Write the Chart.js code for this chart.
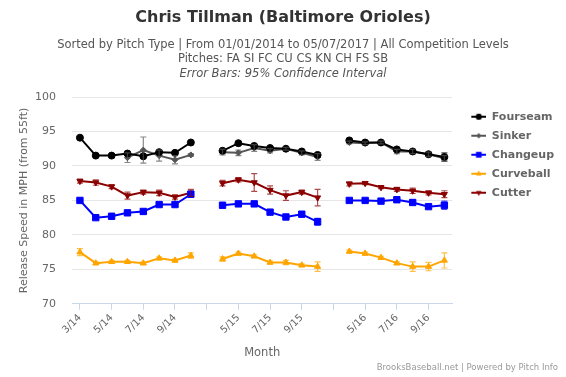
<!DOCTYPE html>
<html>
<head>
<meta charset="utf-8">
<script src="https://cdn.jsdelivr.net/npm/chart.js@4.4.0/dist/chart.umd.min.js"></script>
<style>
  html, body { margin: 0; padding: 0; background: #fff; }
  #wrap { width: 566px; height: 377px; position: relative; }
</style>
</head>
<body>
<div id="wrap"><canvas id="speedChart"></canvas></div>
<script>
// ===== Data =====
const months = ['3/14','4/14','5/14','6/14','7/14','8/14','9/14','10/14','',
                '4/15','5/15','6/15','7/15','8/15','9/15','10/15','',
                '4/16','5/16','6/16','7/16','8/16','9/16','10/16'];

const fourseam    = [94.1,91.5,91.5,91.8,91.4,92.0,91.9,93.4,null, 92.2,93.3,92.9,92.6,92.5,92.1,91.6,null, 93.7,93.4,93.4,92.4,92.1,91.7,91.3];
const fourseamErr = [0.2,0.1,0.1,0.1,0.1,0.1,0.1,0.2,null, 0.2,0.2,0.2,0.2,0.1,0.2,0.3,null, 0.2,0.2,0.1,0.2,0.2,0.2,0.6];

const sinker    = [null,null,null,91.2,92.3,91.5,90.9,91.6,null, 92.0,91.9,92.6,92.2,92.5,91.9,91.3,null, 93.4,93.3,93.4,92.1,92.1,91.7,91.1];
const sinkerErr = [null,null,null,0.7,1.9,0.8,0.6,0.2,null, 0.4,0.4,0.5,0.3,0.2,0.3,0.5,null, 0.2,0.2,0.2,0.3,0.3,0.3,0.4];

const changeup    = [85.0,82.5,82.7,83.2,83.4,84.4,84.4,85.9,null, 84.3,84.5,84.5,83.3,82.6,83.0,81.9,null, 85.0,85.0,84.9,85.1,84.7,84.1,84.3];
const changeupErr = [0.3,0.2,0.2,0.2,0.2,0.3,0.2,0.4,null, 0.2,0.2,0.2,0.2,0.2,0.2,0.5,null, 0.2,0.2,0.2,0.2,0.3,0.3,0.6];

const curveball    = [77.5,75.9,76.1,76.1,75.9,76.6,76.3,77.0,null, 76.5,77.3,76.9,76.0,76.0,75.6,75.4,null, 77.6,77.3,76.7,75.9,75.4,75.4,76.3];
const curveballErr = [0.5,0.2,0.2,0.2,0.2,0.2,0.2,0.4,null, 0.3,0.2,0.2,0.2,0.3,0.2,0.7,null, 0.2,0.2,0.2,0.2,0.7,0.6,1.1];

const cutter    = [87.8,87.6,87.0,85.7,86.2,86.1,85.5,86.1,null, 87.5,88.0,87.6,86.5,85.7,86.2,85.4,null, 87.4,87.5,86.9,86.6,86.4,86.1,85.9];
const cutterErr = [0.3,0.4,0.3,0.5,0.3,0.4,0.3,0.5,null, 0.4,0.3,1.3,0.6,0.7,0.3,1.2,null, 0.3,0.2,0.2,0.3,0.4,0.3,0.5];

const yTicks = [70, 75, 80, 85, 90, 95, 100];

const TITLE = 'Chris Tillman (Baltimore Orioles)';
const SUB1 = 'Sorted by Pitch Type | From 01/01/2014 to 05/07/2017 | All Competition Levels';
const SUB2 = 'Pitches: FA SI FC CU CS KN CH FS SB';
const SUB3 = 'Error Bars: 95% Confidence Interval';
const CREDIT = 'BrooksBaseball.net | Powered by Pitch Info';

// ===== Helpers =====
const FONT = "'DejaVu Sans', 'Liberation Sans', sans-serif";

// legend swatch: blank margin on the left, then a short line with the marker in the middle
function swatch(color, style, radius, rot) {
  const c = document.createElement('canvas');
  c.width = 26; c.height = 10;
  const g = c.getContext('2d');
  g.strokeStyle = color; g.lineWidth = 2;
  g.beginPath(); g.moveTo(11, 5); g.lineTo(26, 5); g.stroke();
  g.fillStyle = color;
  Chart.helpers.drawPoint(g, { pointStyle: style, radius: radius * 0.85, rotation: rot || 0, borderWidth: 0 }, 18.5, 5);
  g.fill();
  return c;
}

function series(label, data, err, color, style, radius, rot) {
  return {
    label, data, err,
    borderColor: color, backgroundColor: color,
    pointStyle: style, pointRadius: radius, pointRotation: rot || 0,
    pointHoverRadius: radius, pointBorderWidth: 1, borderWidth: 2, tension: 0, spanGaps: false,
    legendSwatch: swatch(color, style, radius, rot)
  };
}

// ===== Plugins =====
const errorBars = {
  id: 'errorBars',
  afterDatasetsDraw(chart) {
    const { ctx, scales: { x, y } } = chart;
    chart.data.datasets.forEach(ds => {
      if (!ds.err) return;
      ctx.save();
      ctx.strokeStyle = ds.borderColor;
      ctx.globalAlpha = 0.7;
      ctx.lineWidth = 1.2;
      ds.data.forEach((v, i) => {
        const e = ds.err[i];
        if (v == null || e == null) return;
        const px = x.getPixelForValue(i);
        const top = y.getPixelForValue(v + e), bot = y.getPixelForValue(v - e);
        ctx.beginPath();
        ctx.moveTo(px, top); ctx.lineTo(px, bot);
        ctx.moveTo(px - 3, top); ctx.lineTo(px + 3, top);
        ctx.moveTo(px - 3, bot); ctx.lineTo(px + 3, bot);
        ctx.stroke();
      });
      ctx.restore();
    });
  }
};

const header = {
  id: 'header',
  afterDraw(chart) {
    const { ctx, width, height } = chart;
    ctx.save();
    ctx.textAlign = 'center'; ctx.textBaseline = 'middle';
    ctx.fillStyle = '#333';
    ctx.font = `bold 16px ${FONT}`;
    ctx.fillText(TITLE, width / 2, 18);
    ctx.fillStyle = '#555';
    ctx.font = `11.5px ${FONT}`;
    ctx.fillText(SUB1, width / 2, 45);
    ctx.fillText(SUB2, width / 2, 59.5);
    ctx.font = `italic 11.5px ${FONT}`;
    ctx.fillText(SUB3, width / 2, 74);
    ctx.textAlign = 'right';
    ctx.fillStyle = '#999';
    ctx.font = `8.5px ${FONT}`;
    ctx.fillText(CREDIT, width - 8, height - 9);
    ctx.restore();
  }
};

// ===== Chart =====
const ctx = document.getElementById('speedChart').getContext('2d');
const chart = new Chart(ctx, {
  type: 'line',
  data: {
    labels: months,
    datasets: [
      series('Fourseam', fourseam, fourseamErr, '#000000', 'circle', 3.5),
      series('Sinker', sinker, sinkerErr, '#555555', 'rectRot', 3),
      series('Changeup', changeup, changeupErr, '#0000ff', 'rect', 4.5),
      series('Curveball', curveball, curveballErr, '#ffa500', 'triangle', 3.5),
      series('Cutter', cutter, cutterErr, '#8b0000', 'triangle', 3.5, 180)
    ]
  },
  options: {
    responsive: true, maintainAspectRatio: false, animation: false,
    layout: { padding: { top: 97, left: 14, right: 2, bottom: 13 } },
    plugins: {
      title: { display: false },
      tooltip: { enabled: false },
      legend: {
        position: 'right', align: 'start',
        title: { display: true, text: ' ', font: { size: 1 }, padding: { top: 0, bottom: 5 } },
        labels: {
          usePointStyle: true, pointStyleWidth: 26,
          font: { family: FONT, size: 11, weight: 'bold' },
          color: '#333', padding: 8, boxHeight: 10,
          generateLabels: (c) => c.data.datasets.map((ds, i) => ({
            text: ds.label, pointStyle: ds.legendSwatch, fillStyle: ds.borderColor,
            strokeStyle: ds.borderColor, lineWidth: 0, datasetIndex: i, hidden: false
          }))
        }
      }
    },
    scales: {
      x: {
        type: 'category', offset: true,
        grid: { display: true, drawOnChartArea: false, offset: false, color: '#ccd6eb', tickLength: 6 },
        border: { color: '#ccd6eb' },
        ticks: {
          autoSkip: false, maxRotation: 45, minRotation: 45, color: '#666', padding: 2,
          font: { family: FONT, size: 10 },
          callback: (v, i) => (i % 2 === 0 ? months[i] : null)
        },
        title: { display: true, text: 'Month', color: '#666', font: { family: FONT, size: 11.5 }, padding: { top: 8 } }
      },
      y: {
        min: 70, max: 100,
        afterBuildTicks: (s) => { s.ticks = yTicks.map(v => ({ value: v })); },
        afterFit: (s) => { s.width = 58; },
        grid: { color: '#e6e6e6', drawTicks: false },
        border: { display: false },
        ticks: { color: '#666', padding: 16, font: { family: FONT, size: 11 } },
        title: { display: true, text: 'Release Speed in MPH (from 55ft)', color: '#666', font: { family: FONT, size: 11 }, padding: { top: 3.5, bottom: 0 } }
      }
    }
  },
  plugins: [errorBars, header]
});
</script>
</body>
</html>
